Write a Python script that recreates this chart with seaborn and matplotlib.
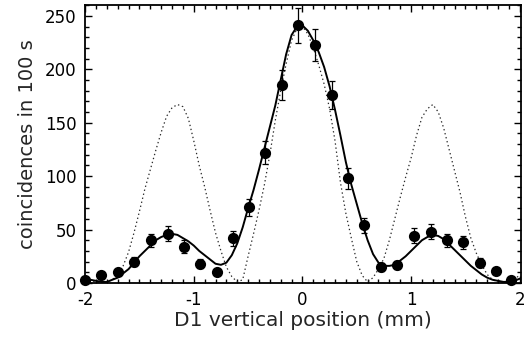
import numpy as np
import pandas as pd
import matplotlib
matplotlib.use('Agg')
import matplotlib.pyplot as plt
from matplotlib.ticker import MultipleLocator
import seaborn as sns


# measured coincidences (points with error bars)
pos_mm = [-2.0, -1.85, -1.70, -1.55, -1.39, -1.24, -1.09, -0.94, -0.79, -0.64, -0.49, -0.34, -0.19, -0.04,
          0.12, 0.27, 0.42, 0.57, 0.72, 0.87, 1.03, 1.18, 1.33, 1.48, 1.63, 1.78, 1.92]
counts = [3, 7, 10, 20, 40, 46, 34, 18, 10, 42, 71, 122, 185, 241,
          223, 176, 98, 54, 15, 17, 44, 48, 40, 38, 19, 11, 3]
count_err = [2, 3, 3, 4, 6, 7, 6, 4, 3, 7, 8, 11, 14, 16,
             15, 13, 10, 7, 4, 4, 7, 7, 6, 6, 4, 3, 2]

# curves every 0.05 mm
curve_x = [-2.0, -1.95, -1.9, -1.85, -1.8, -1.75, -1.7, -1.65, -1.6, -1.55,
           -1.5, -1.45, -1.4, -1.35, -1.3, -1.25, -1.2, -1.15, -1.1, -1.05,
           -1.0, -0.95, -0.9, -0.85, -0.8, -0.75, -0.7, -0.65, -0.6, -0.55,
           -0.5, -0.45, -0.4, -0.35, -0.3, -0.25, -0.2, -0.15, -0.1, -0.05,
           0.0, 0.05, 0.1, 0.15, 0.2, 0.25, 0.3, 0.35, 0.4, 0.45,
           0.5, 0.55, 0.6, 0.65, 0.7, 0.75, 0.8, 0.85, 0.9, 0.95,
           1.0, 1.05, 1.1, 1.15, 1.2, 1.25, 1.3, 1.35, 1.4, 1.45,
           1.5, 1.55, 1.6, 1.65, 1.7, 1.75, 1.8, 1.85, 1.9, 1.95, 2.0]
fit_y = [4, 3, 2, 1, 1, 3, 5, 9, 13, 19,
         25, 30, 35, 40, 43, 45, 46, 45, 42, 39,
         35, 30, 26, 22, 18, 17, 19, 26, 37, 52,
         70, 87, 106, 126, 146, 166, 190, 214, 232, 240,
         241, 236, 227, 216, 202, 184, 162, 138, 113, 92,
         74, 56, 40, 27, 19, 16, 16, 17, 21, 25,
         30, 35, 40, 43, 45, 44, 41, 36, 31, 26,
         21, 16, 12, 8, 5, 3, 2, 1, 1, 2, 4]
theory_y = [3, 2, 1, 0, 1, 3, 8, 16, 29, 47,
            67, 88, 106, 124, 141, 156, 164, 167, 165, 154,
            133, 110, 90, 68, 47, 30, 15, 6, 1, 3,
            25, 46, 68, 92, 120, 152, 180, 205, 227, 238,
            240, 233, 220, 204, 186, 163, 133, 94, 65, 42,
            20, 7, 1, 5, 13, 23, 40, 60, 80, 99,
            117, 138, 155, 163, 167, 160, 145, 125, 105, 85,
            62, 42, 28, 17, 8, 3, 1, 1, 2, 4, 7]

points = pd.DataFrame({'pos': pos_mm, 'counts': counts, 'err': count_err})
curves = pd.DataFrame({'pos': curve_x, 'fit': fit_y, 'theory': theory_y})

sns.set_theme(style='ticks')
plt.rcParams['font.family'] = ['DejaVu Sans']
plt.rcParams['axes.unicode_minus'] = False

fig, ax = plt.subplots(figsize=(5.32, 3.43), dpi=100)
fig.subplots_adjust(left=0.16, right=0.979, bottom=0.175, top=0.985)

sns.lineplot(data=curves, x='pos', y='theory', ax=ax, color='#2a2a2a', lw=0.9,
             linestyle=(0, (1.1, 2.2)), sort=False)
sns.lineplot(data=curves, x='pos', y='fit', ax=ax, color='black', lw=1.4, sort=False)
ax.errorbar(points['pos'], points['counts'], yerr=points['err'], fmt='none',
            ecolor='black', elinewidth=0.9, capsize=2.3, capthick=0.9, clip_on=False)
sns.scatterplot(data=points, x='pos', y='counts', ax=ax, color='black', s=65,
                edgecolor='black', linewidth=0, clip_on=False, zorder=5)

ax.set_xlim(-2, 2.01)
ax.set_ylim(0, 260)
ax.xaxis.set_major_locator(MultipleLocator(1))
ax.xaxis.set_minor_locator(MultipleLocator(0.1))
ax.yaxis.set_major_locator(MultipleLocator(50))
ax.yaxis.set_minor_locator(MultipleLocator(10))
ax.tick_params(which='both', direction='in', top=True, right=True, colors='black', width=1.0)
ax.tick_params(which='major', length=5, labelsize=12, pad=6)
ax.tick_params(which='minor', length=3)
for s in ax.spines.values():
    s.set_linewidth(1.3)
    s.set_color('black')

ax.set_xlabel('D1 vertical position (mm)', fontsize=14.5, labelpad=1)
ax.set_ylabel('coincidences in 100 s', fontsize=14, labelpad=6)

plt.savefig('out.png', dpi=100)
